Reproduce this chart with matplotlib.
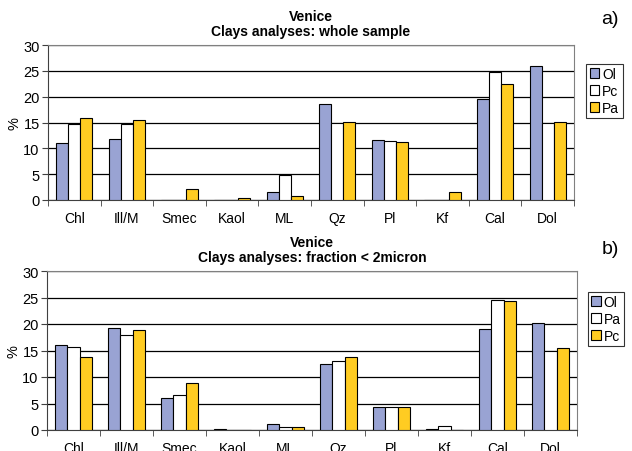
import numpy as np
import matplotlib
matplotlib.use("Agg")
import matplotlib.pyplot as plt

plt.rcParams["font.family"] = ["Liberation Sans", "DejaVu Sans"]

# ---------------------------------------------------------------------------
# Data
# ---------------------------------------------------------------------------
categories = ["Chl", "Ill/M", "Smec", "Kaol", "ML", "Qz", "Pl", "Kf", "Cal", "Dol"]

# a) whole sample
whole_ol = [11.0, 11.9, 0.0, 0.0, 1.6, 18.5, 11.7, 0.0, 19.5, 25.9]
whole_pc = [14.8, 14.8, 0.0, 0.0, 4.9, 14.9, 11.5, 0.0, 24.7, 14.9]
whole_pa = [15.8, 15.4, 2.2, 0.4, 0.8, 15.1, 11.2, 1.5, 22.4, 15.1]

# b) fraction < 2 micron
fine_ol = [16.0, 19.2, 6.0, 0.15, 1.1, 12.4, 4.4, 0.1, 19.1, 20.1]
fine_pa = [15.7, 18.0, 6.6, 0.0, 0.6, 13.1, 4.4, 0.8, 24.6, 15.0]
fine_pc = [13.8, 18.9, 8.8, 0.0, 0.6, 13.8, 4.3, 0.0, 24.3, 15.4]

BLUE = "#99A3D3"
WHITE = "#FFFFFF"
YELLOW = "#FFCC22"

W, H = 632, 452


def px_axes(fig, left, top, right, bottom):
    return fig.add_axes([left / W, 1 - bottom / H, (right - left) / W, (bottom - top) / H])


def draw_panel(ax, series, labels, colors, title, legend_box):
    x = np.arange(len(categories))
    bw = 0.23
    for i, (vals, lab, col) in enumerate(zip(series, labels, colors)):
        ax.bar(x + (i - 1) * bw, vals, bw, color=col, edgecolor="black",
               linewidth=0.8, label=lab, zorder=3)

    ax.set_xlim(-0.5, len(categories) - 0.5)
    ax.set_ylim(0, 30)
    ax.set_yticks(np.arange(0, 31, 5))
    ax.set_xticks(x)
    ax.set_xticklabels(categories, fontsize=10)
    ax.set_xticks(np.arange(-0.5, len(categories)), minor=True)
    ax.tick_params(axis="x", which="major", length=0, pad=8)
    ax.tick_params(axis="x", which="minor", length=4, direction="out", color="#404040")
    ax.tick_params(axis="y", length=4, direction="out", labelsize=10.5, pad=2, color="#404040")
    ax.yaxis.grid(True, color="black", linewidth=0.9, zorder=0)
    ax.set_axisbelow(True)
    for s in ["top", "right"]:
        ax.spines[s].set_color("#808080")
    for s in ["left", "bottom"]:
        ax.spines[s].set_color("#404040")
    ax.set_ylabel("%", fontsize=10.5, labelpad=1)
    ax.set_title(title, fontsize=10, fontweight="bold", pad=7, linespacing=1.1)

    leg = ax.legend(loc="upper left", bbox_to_anchor=legend_box, fontsize=10,
                    frameon=True, fancybox=False, edgecolor="black",
                    handlelength=0.7, handleheight=0.7, handletextpad=0.2,
                    borderpad=0.25, labelspacing=0.2, borderaxespad=0)
    leg.get_frame().set_linewidth(0.8)


fig = plt.figure(figsize=(W / 100, H / 100), dpi=100)

ax1 = px_axes(fig, 48, 46, 574, 201)
draw_panel(ax1, [whole_ol, whole_pc, whole_pa], ["Ol", "Pc", "Pa"],
           [BLUE, WHITE, YELLOW], "Venice\nClays analyses: whole sample",
           (1.023, 0.88))
fig.text(610 / W, 1 - 20 / H, "a)", fontsize=14, ha="center", va="center")

ax2 = px_axes(fig, 47, 272, 577, 431)
draw_panel(ax2, [fine_ol, fine_pa, fine_pc], ["Ol", "Pa", "Pc"],
           [BLUE, WHITE, YELLOW], "Venice\nClays analyses: fraction < 2micron",
           (1.02, 0.87))
fig.text(610 / W, 1 - 250 / H, "b)", fontsize=14, ha="center", va="center")

fig.savefig("out.png", dpi=100)
